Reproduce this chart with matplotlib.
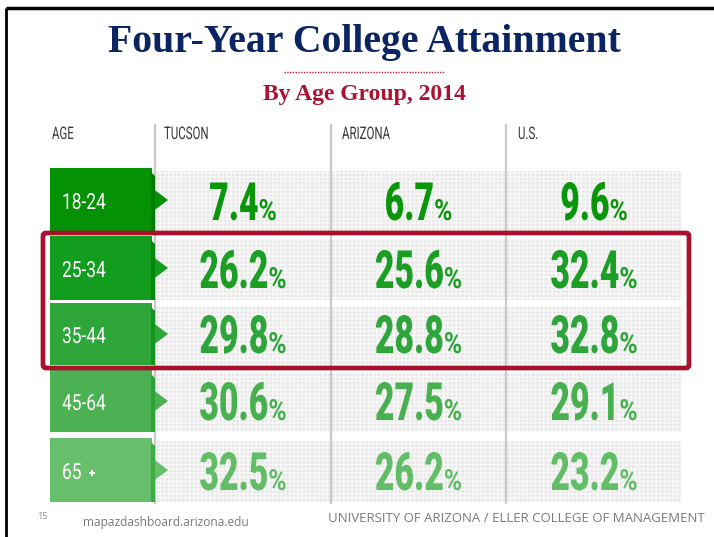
import matplotlib
matplotlib.use("Agg")
import matplotlib.pyplot as plt
from matplotlib.patches import Rectangle, Polygon, FancyBboxPatch
from matplotlib.patheffects import AbstractPathEffect
from matplotlib.transforms import Affine2D

# ===============================
# Datos
# ===============================
titulo = "Four-Year College Attainment"
subtitulo = "By Age Group, 2014"
columnas = ["TUCSON", "ARIZONA", "U.S."]
edades = ["18-24", "25-34", "35-44", "45-64", "65"]
tucson = [7.4, 26.2, 29.8, 30.6, 32.5]
arizona = [6.7, 25.6, 28.8, 27.5, 26.2]
us = [9.6, 32.4, 32.8, 29.1, 23.2]
valores = [tucson, arizona, us]

color_caja = ["#049104", "#139d1f", "#2ea63a", "#4bb152", "#67bf6c"]
color_num = ["#0a960a", "#1a9e24", "#2ea53a", "#48b04e", "#62bd67"]
color_borde = ["#007d00", "#008a0c", "#12961f", "#2ea237", "#3dac45"]


# --- efecto para estrechar el texto (no hay fuente condensada instalada) ---
class Estrechar(AbstractPathEffect):
    def __init__(self, sx, cx=None):
        super().__init__()
        self.sx = sx
        self.cx = cx  # eje fijo en píxeles; None = borde izquierdo del texto

    def draw_path(self, renderer, gc, tpath, affine, rgbFace=None):
        cx = affine.get_matrix()[0, 2] if self.cx is None else self.cx
        aff = affine + Affine2D().translate(-cx, 0).scale(self.sx, 1).translate(cx, 0)
        renderer.draw_path(gc, tpath, aff, rgbFace)


serif = "Liberation Serif"
sans = "Roboto"
pie = "Open Sans"

fig = plt.figure(figsize=(7.14, 5.37), dpi=100)
ax = fig.add_axes([0, 0, 1, 1])
ax.set_xlim(0, 714)
ax.set_ylim(537, 0)
ax.axis("off")
renderer = fig.canvas.get_renderer()


def texto(x, y, s, sx, ha="left", **kw):
    t = ax.text(x, y, s, family=sans, ha=ha, va="baseline", **kw)
    t.set_path_effects([Estrechar(sx, None if ha == "left" else x)])
    return t


# marco de la diapositiva
ax.plot([5.5, 714], [8, 8], color="black", lw=2.5, solid_capstyle="butt")
ax.plot([5.5, 5.5], [8, 537], color="black", lw=2.0, solid_capstyle="butt")

# títulos
ax.text(364, 52, titulo, family=serif, weight="bold", fontsize=28.6,
        color="#0b2462", ha="center", va="baseline")
ax.plot([284, 445], [72, 72], color="#c0203a", lw=1.0, ls=(0, (1, 1)))
ax.text(364, 100, subtitulo, family=serif, weight="bold", fontsize=17,
        color="#ad1030", ha="center", va="baseline")

# encabezados
texto(52, 139, "AGE", 0.66, fontsize=12.5, color="#383838")
x_enc = [164, 342, 518]
for x, c in zip(x_enc, columnas):
    texto(x, 139, c, 0.66, fontsize=12.5, color="#383838")

# filas
filas_top = [168, 236, 303, 370, 438]
filas_bot = [232, 300, 365, 432, 502]
x_div = [155, 331, 506]
centros = [243, 418.5, 594]

for i in range(len(edades)):
    y0, y1 = filas_top[i], filas_bot[i]
    ym = (y0 + y1) / 2
    ax.add_patch(Rectangle((155, y0 + 3), 527, y1 - y0 - 3, facecolor="#e8e8e8",
                           edgecolor="#f8f8f8", hatch="++++", lw=0, zorder=1))
    ax.add_patch(Polygon([(50, y0), (152, y0), (152, ym - 12), (168, ym),
                          (152, ym + 12), (152, y1), (50, y1)],
                         closed=True, facecolor=color_caja[i], lw=0, zorder=3))
    ax.add_patch(Polygon([(151, y0 + 4), (155, y0 + 8), (155, y1), (151, y1)],
                         closed=True, facecolor=color_borde[i], lw=0, zorder=3))
    texto(62, ym + 9, edades[i], 0.78, fontsize=16, color="white", zorder=4)
    if edades[i] == "65":
        texto(89, ym + 7, "+", 0.9, fontsize=9, color="white", zorder=4,
              weight="bold")

for x in x_div:
    ax.plot([x, x], [125, 503], color="#c9c9c9", lw=1.6, zorder=2)

# números: cifra alineada a la derecha, "%" pegado detrás
sx_num, sx_pct = 0.64, 0.85
for j, serie in enumerate(valores):
    for i, v in enumerate(serie):
        base = filas_bot[i] - 12
        t1 = ax.text(0, base, f"{v:.1f}", family=sans, weight="heavy",
                     fontsize=38, color=color_num[i], va="baseline", zorder=5)
        t2 = ax.text(0, base, "%", family=sans, weight="bold", fontsize=21,
                     color=color_num[i], va="baseline", zorder=5)
        w1 = t1.get_window_extent(renderer).width * sx_num
        w2 = t2.get_window_extent(renderer).width * sx_pct
        xc = centros[j] - (w1 + w2) / 2 + w1
        t1.set_x(xc)
        t1.set_ha("right")
        t1.set_path_effects([Estrechar(sx_num, xc)])
        t2.set_x(xc)
        t2.set_path_effects([Estrechar(sx_pct)])

# recuadro rojo
ax.add_patch(FancyBboxPatch((43, 233), 646, 135,
                            boxstyle="round,pad=0,rounding_size=3",
                            facecolor="none", edgecolor="#a8102b", lw=3.4, zorder=6))

# pie de página
ax.text(37, 519, "15", family=pie, fontsize=6.5, color="#8a8a8a", va="baseline")
ax.text(83, 526, "mapazdashboard.arizona.edu", family=pie, fontsize=8.6,
        color="#7a7a7a", va="baseline")
ax.text(705, 522, "UNIVERSITY OF ARIZONA / ELLER COLLEGE OF MANAGEMENT",
        family=pie, fontsize=9.5, color="#7a7a7a", ha="right", va="baseline")

fig.savefig("out.png", dpi=100)
